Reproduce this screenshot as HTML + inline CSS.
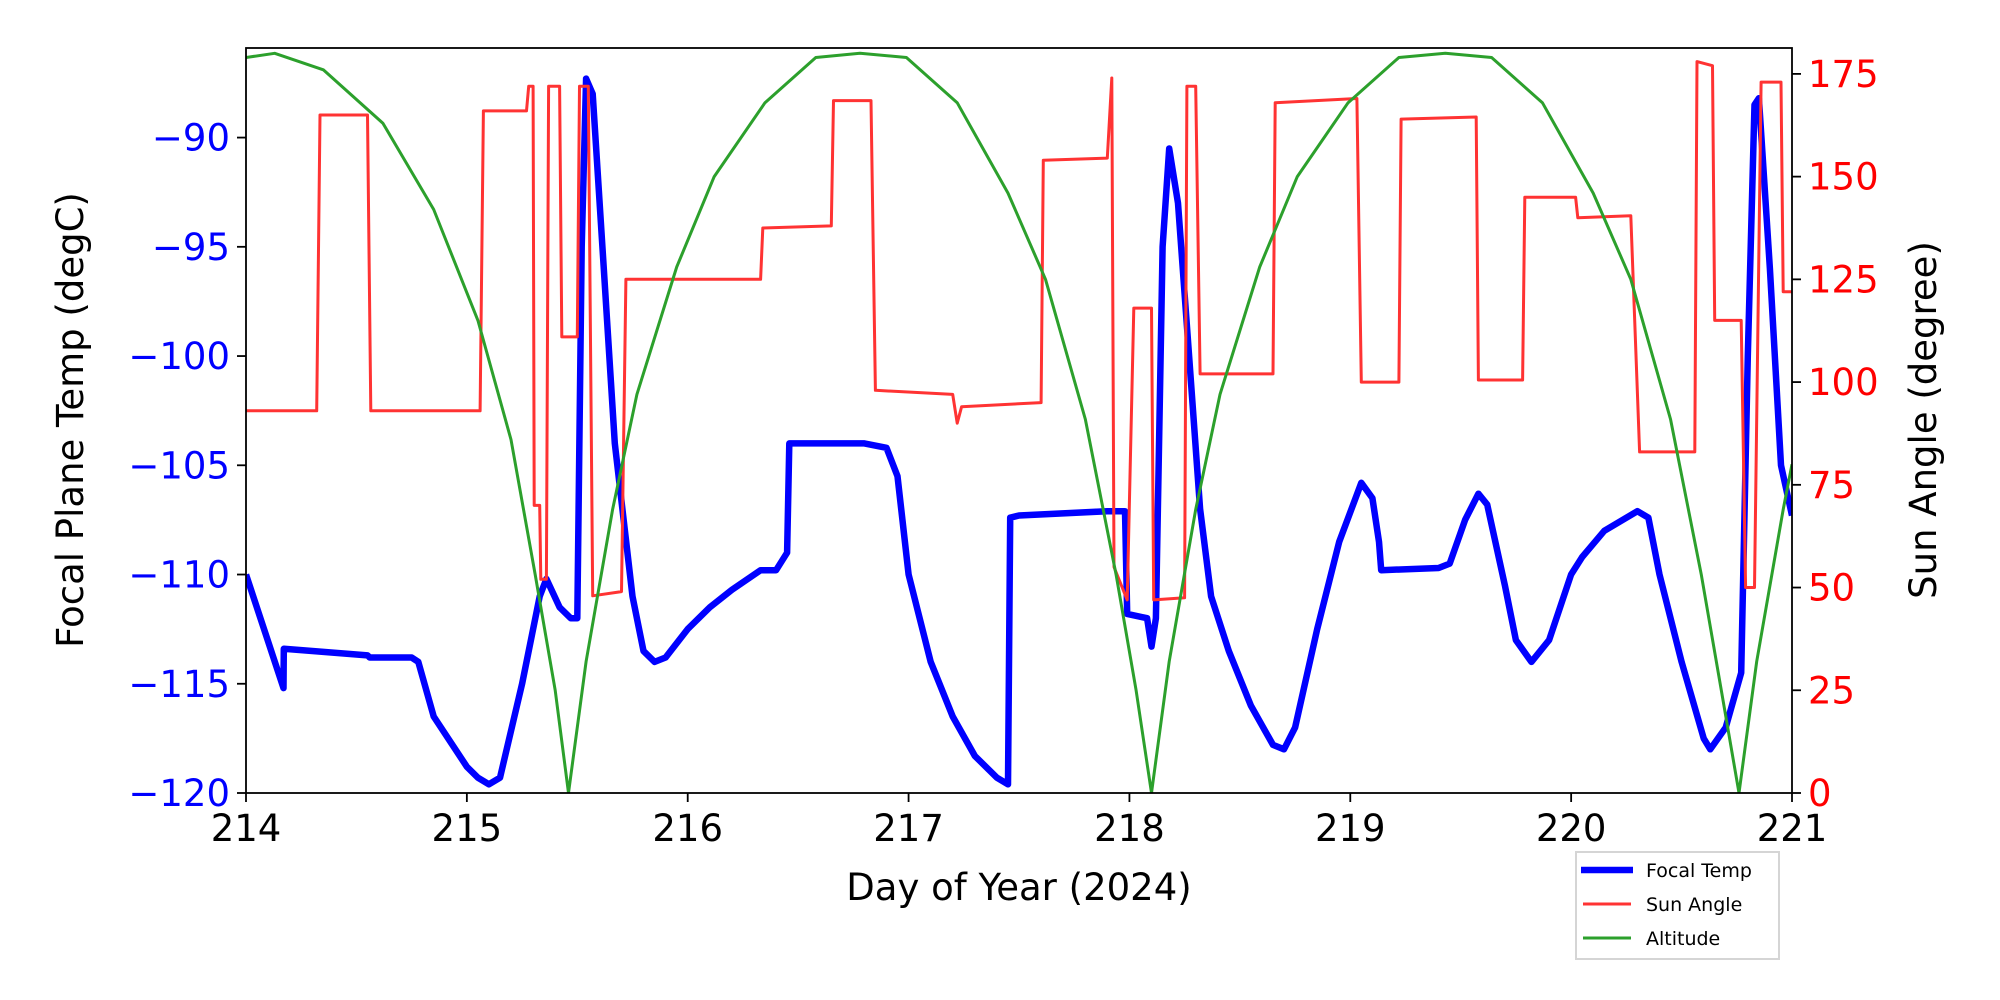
<!DOCTYPE html>
<html><head><meta charset="utf-8"><style>html,body{margin:0;padding:0;background:#fff}svg{display:block}text{font-family:"DejaVu Sans","Liberation Sans",sans-serif}</style></head>
<body>
<svg id="chart" width="2000" height="1000" viewBox="0 0 2000 1000" xmlns="http://www.w3.org/2000/svg"></svg>
<script>
const xTicks=[214,215,216,217,218,219,220,221];
const leftTicks=[-120,-115,-110,-105,-100,-95,-90];
const rightTicks=[0,25,50,75,100,125,150,175];
const tempX=[214.0,214.17,214.171,214.3,214.55,214.56,214.75,214.78,214.85,215.0,215.05,215.1,215.15,215.25,215.33,215.36,215.42,215.47,215.5,215.52,215.54,215.57,215.62,215.67,215.75,215.8,215.85,215.9,216.0,216.1,216.2,216.33,216.4,216.45,216.46,216.8,216.9,216.95,217.0,217.1,217.2,217.3,217.4,217.45,217.46,217.5,217.9,217.98,217.99,218.08,218.1,218.12,218.15,218.18,218.22,218.27,218.32,218.37,218.45,218.55,218.65,218.7,218.75,218.85,218.95,219.05,219.1,219.13,219.14,219.4,219.45,219.52,219.58,219.62,219.7,219.75,219.82,219.9,220.0,220.05,220.15,220.3,220.35,220.4,220.5,220.6,220.63,220.7,220.77,220.8,220.83,220.85,220.9,220.95,221.0];
const tempY=[-110,-115.2,-113.4,-113.5,-113.7,-113.8,-113.8,-114,-116.5,-118.8,-119.3,-119.6,-119.3,-115,-111,-110.2,-111.5,-112,-112,-95,-87.3,-88,-96,-104,-111,-113.5,-114,-113.8,-112.5,-111.5,-110.7,-109.8,-109.8,-109,-104,-104,-104.2,-105.5,-110,-114,-116.5,-118.3,-119.3,-119.6,-107.4,-107.3,-107.1,-107.1,-111.8,-112,-113.3,-112,-95,-90.5,-93,-100,-107,-111,-113.5,-116,-117.8,-118,-117,-112.5,-108.5,-105.8,-106.5,-108.5,-109.8,-109.7,-109.5,-107.5,-106.3,-106.8,-110.5,-113,-114,-113,-110,-109.2,-108,-107.1,-107.4,-110,-114,-117.5,-118,-117,-114.5,-100,-88.5,-88.2,-96,-105,-107.3];
const sunX=[214.0,214.32,214.335,214.55,214.565,215.06,215.075,215.27,215.28,215.3,215.305,215.33,215.335,215.36,215.37,215.42,215.43,215.5,215.51,215.55,215.57,215.7,215.72,216.33,216.34,216.65,216.66,216.83,216.85,217.2,217.22,217.24,217.6,217.61,217.9,217.92,217.93,217.99,218.02,218.1,218.11,218.25,218.26,218.3,218.32,218.65,218.66,219.03,219.05,219.22,219.23,219.57,219.58,219.78,219.79,220.02,220.03,220.27,220.31,220.56,220.57,220.64,220.65,220.77,220.79,220.83,220.86,220.95,220.96,221.0];
const sunY=[93,93,165,165,93,93,166,166,172,172,70,70,52,52,172,172,111,111,172,172,48,49,125,125,137.5,138,168.5,168.5,98,97,90,94,95,154,154.5,174,55,47,118,118,47,47.5,172,172,102,102,168,169,100,100,164,164.5,100.5,100.5,145,145,140,140.5,83,83,178,177,115,115,50,50,173,173,122,122];
const altX=[214.0,214.13,214.35,214.62,214.85,215.05,215.2,215.31,215.4,215.46,215.54,215.66,215.77,215.95,216.12,216.35,216.58,216.78,216.99,217.22,217.45,217.62,217.8,217.94,218.03,218.1,218.18,218.3,218.41,218.59,218.76,218.99,219.22,219.43,219.64,219.87,220.1,220.27,220.45,220.59,220.68,220.76,220.84,220.96,221.0];
const altY=[179,180,176,163,142,115,86,53,25,0,32,69,97,128,150,168,179,180,179,168,146,125,91,53,25,0,32,69,97,128,150,168,179,180,179,168,146,125,91,53,25,0,32,69,80];

const svg=document.getElementById('chart');
const NS='http://www.w3.org/2000/svg';
const L=246,R=1792,T=48,B=793;
function sx(v){return L+(v-214)/(221-214)*(R-L);}
function syL(v){return B-(v-(-120))/(34.1)*(B-T);}
function syR(v){return B-v/181.3*(B-T);}
function mk(tag,attrs,parent){const e=document.createElementNS(NS,tag);for(const k in attrs)e.setAttribute(k,attrs[k]);(parent||svg).appendChild(e);return e;}
function txt(s,attrs){const e=mk('text',attrs);e.textContent=s;return e;}

const clip=mk('clipPath',{id:'pc'});mk('rect',{x:L,y:T,width:R-L,height:B-T},clip);

function line(xs,ys,fy,color,w,name){
  let d='';for(let i=0;i<xs.length;i++){d+=(i?'L':'M')+sx(xs[i]).toFixed(1)+','+fy(ys[i]).toFixed(1);}
  const p=mk('path',{d:d,fill:'none',stroke:color,'stroke-width':w,'stroke-linejoin':'round','clip-path':'url(#pc)'});
  
  
}
line(tempX,tempY,syL,'#0000ff',6.5,'focal-temp-line');
line(sunX,sunY,syR,'#ff3333',3,'sun-angle-line');
line(altX,altY,syR,'#2ca02c',3,'altitude-line');

const frame=mk('rect',{x:L,y:T,width:R-L,height:B-T,fill:'none',stroke:'#000','stroke-width':1.8});



xTicks.forEach(v=>{const x=sx(v);
  mk('line',{x1:x,y1:B,x2:x,y2:B+9,stroke:'#000','stroke-width':1.8});
  const t=txt(String(v),{x:x,y:B+48,'font-size':37,'text-anchor':'middle',fill:'#000'});
  
  
});
leftTicks.forEach(v=>{const y=syL(v);
  mk('line',{x1:L-9,y1:y,x2:L,y2:y,stroke:'#000','stroke-width':1.8});
  const t=txt('\u2212'+Math.abs(v),{x:L-16,y:y+13,'font-size':37,'text-anchor':'end',fill:'#0000ff'});
  
  
});
rightTicks.forEach(v=>{const y=syR(v);
  mk('line',{x1:R,y1:y,x2:R+9,y2:y,stroke:'#000','stroke-width':1.8});
  const t=txt(String(v),{x:R+16,y:y+13,'font-size':37,'text-anchor':'start',fill:'#ff0000'});
  
  
});
</script>
<svg style="position:absolute;left:0;top:0" width="2000" height="1000">
<text x="1019" y="900" font-size="37" text-anchor="middle" font-family="DejaVu Sans, Liberation Sans, sans-serif">Day of Year (2024)</text>
<text transform="translate(83,420) rotate(-90)" font-size="37" text-anchor="middle" font-family="DejaVu Sans, Liberation Sans, sans-serif">Focal Plane Temp (degC)</text>
<text transform="translate(1936,420) rotate(-90)" font-size="37" text-anchor="middle" font-family="DejaVu Sans, Liberation Sans, sans-serif">Sun Angle (degree)</text>
<g>
<rect x="1576" y="852" width="203" height="107" fill="#fff" stroke="#d5d5d5" stroke-width="2"/>
<line x1="1581" y1="870" x2="1633" y2="870" stroke="#0000ff" stroke-width="6.5"/>
<text x="1646" y="877" font-size="19" font-family="DejaVu Sans, Liberation Sans, sans-serif">Focal Temp</text>
<line x1="1583" y1="904" x2="1631" y2="904" stroke="#ff3333" stroke-width="3"/>
<text x="1646" y="911" font-size="19" font-family="DejaVu Sans, Liberation Sans, sans-serif">Sun Angle</text>
<line x1="1583" y1="938" x2="1631" y2="938" stroke="#2ca02c" stroke-width="3"/>
<text x="1646" y="945" font-size="19" font-family="DejaVu Sans, Liberation Sans, sans-serif">Altitude</text>
</g>
</svg>
</body></html>
